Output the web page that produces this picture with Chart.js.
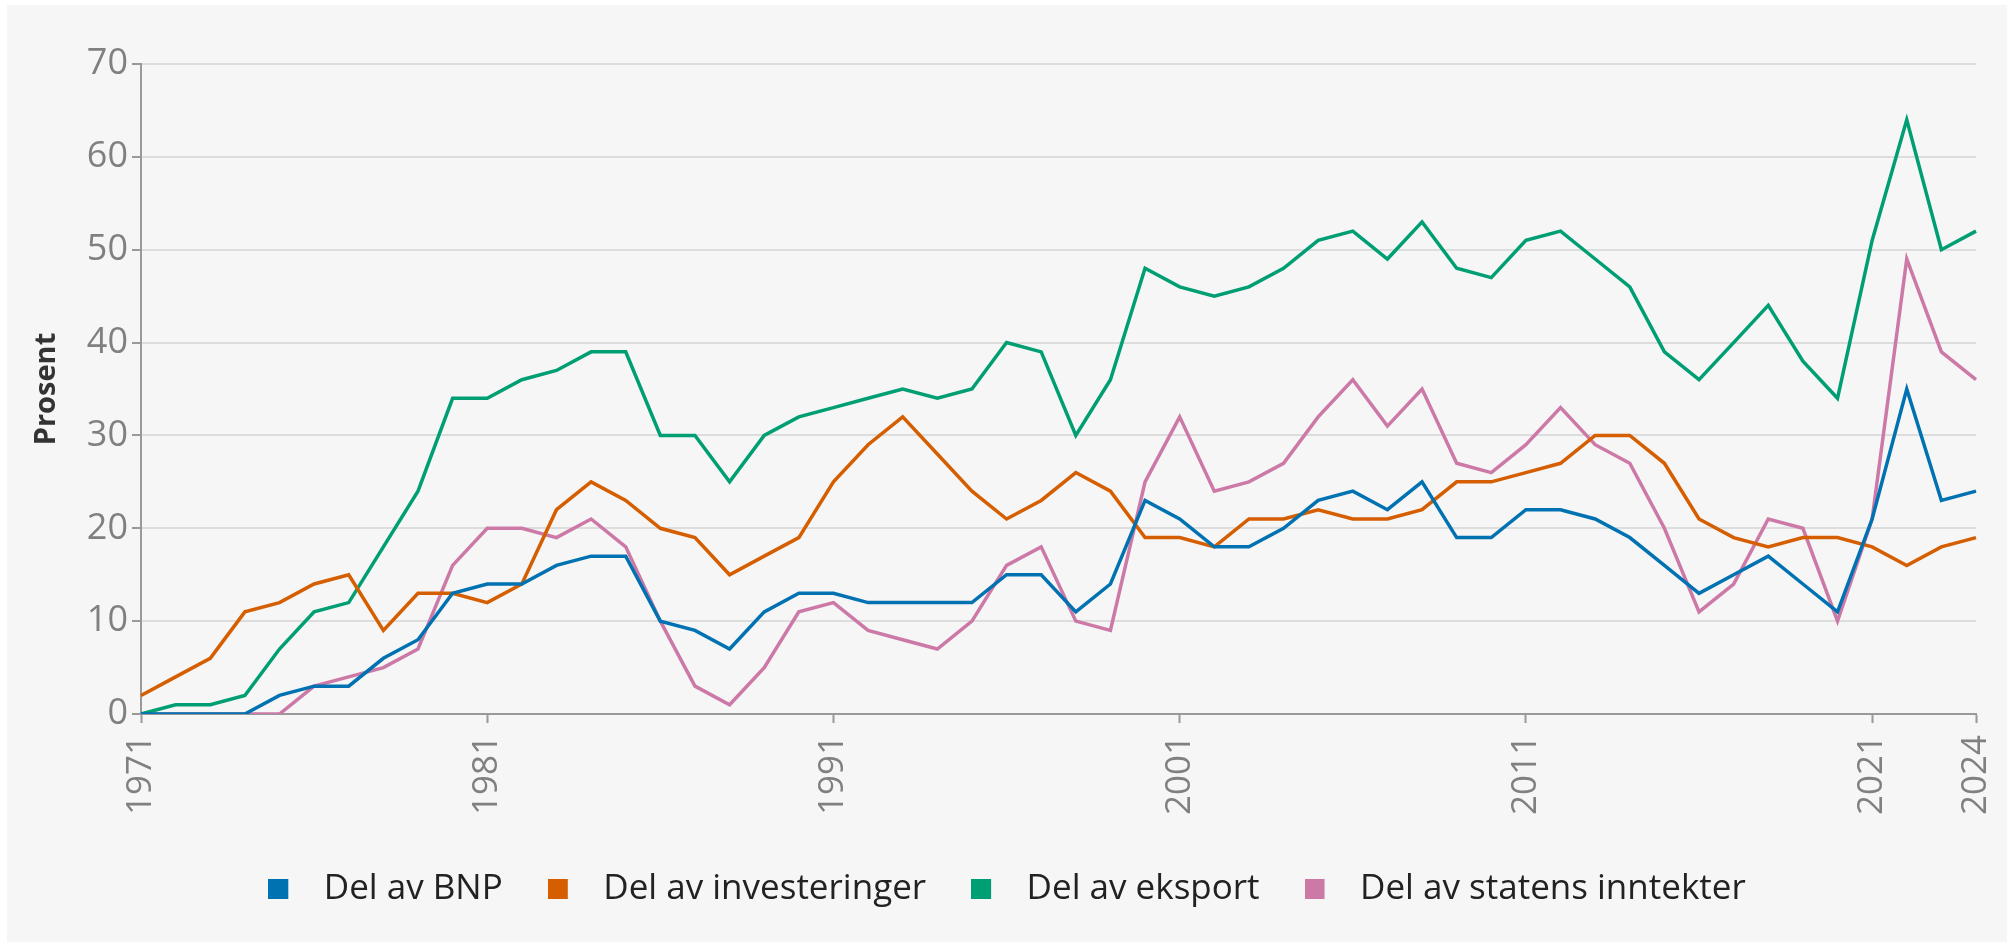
<!DOCTYPE html>
<html><head><meta charset="utf-8">
<script src="https://cdn.jsdelivr.net/npm/chart.js@4.4.1/dist/chart.umd.min.js"></script>
<style>
html,body{margin:0;padding:0;background:#fff;}
#wrap{position:absolute;left:7px;top:5px;width:2000px;height:937px;background:#f6f6f6;}
canvas{display:block;}
</style></head><body>
<div id="wrap"><canvas id="c" width="2000" height="937"></canvas></div>
<script>
// ---- data ----
const years = ['1971','1972','1973','1974','1975','1976','1977','1978','1979','1980',
  '1981','1982','1983','1984','1985','1986','1987','1988','1989','1990',
  '1991','1992','1993','1994','1995','1996','1997','1998','1999','2000',
  '2001','2002','2003','2004','2005','2006','2007','2008','2009','2010',
  '2011','2012','2013','2014','2015','2016','2017','2018','2019','2020',
  '2021','2022','2023','2024'];
const xTickLabels = ['1971','1981','1991','2001','2011','2021','2024'];
const yMin = 0, yMax = 70, yStep = 10;

const delAvBNP = [0,0,0,0,2,3,3,6,8,13,
  14,14,16,17,17,10,9,7,11,13,
  13,12,12,12,12,15,15,11,14,23,
  21,18,18,20,23,24,22,25,19,19,
  22,22,21,19,16,13,15,17,14,11,
  21,35,23,24];
const delAvInvesteringer = [2,4,6,11,12,14,15,9,13,13,
  12,14,22,25,23,20,19,15,17,19,
  25,29,32,28,24,21,23,26,24,19,
  19,18,21,21,22,21,21,22,25,25,
  26,27,30,30,27,21,19,18,19,19,
  18,16,18,19];
const delAvEksport = [0,1,1,2,7,11,12,18,24,34,
  34,36,37,39,39,30,30,25,30,32,
  33,34,35,34,35,40,39,30,36,48,
  46,45,46,48,51,52,49,53,48,47,
  51,52,49,46,39,36,40,44,38,34,
  51,64,50,52];
const delAvStatensInntekter = [0,0,0,0,0,3,4,5,7,16,
  20,20,19,21,18,10,3,1,5,11,
  12,9,8,7,10,16,18,10,9,25,
  32,24,25,27,32,36,31,35,27,26,
  29,33,29,27,20,11,14,21,20,10,
  21,49,39,36];

const seriesNames = ['Del av BNP','Del av investeringer','Del av eksport','Del av statens inntekter'];
const seriesColors = ['#0072B2','#D55E00','#009E73','#CC79A7'];
const seriesData = [delAvBNP, delAvInvesteringer, delAvEksport, delAvStatensInntekter];

// legend swatch: square at left of a wider transparent box
function swatch(color){
  const c = document.createElement('canvas');
  c.width = 38; c.height = 20;
  const g = c.getContext('2d');
  g.fillStyle = color; g.fillRect(0,0,20,20);
  return c;
}

Chart.defaults.font.family = "'Open Sans', 'Noto Sans', sans-serif";
const isShown = (i) => xTickLabels.includes(years[i]);

new Chart(document.getElementById('c'), {
  type: 'line',
  data: {
    labels: years,
    datasets: seriesNames.map((n, i) => ({
      label: n,
      data: seriesData[i],
      borderColor: seriesColors[i],
      backgroundColor: seriesColors[i],
      borderWidth: 3.5,
      pointRadius: 0,
      pointHoverRadius: 0,
      pointStyle: swatch(seriesColors[i]),
      tension: 0,
      fill: false
    }))
  },
  options: {
    responsive: false,
    animation: false,
    layout: { padding: { top: 59, right: 0, bottom: 25.5, left: 0 } },
    plugins: {
      tooltip: { enabled: false },
      legend: {
        position: 'bottom',
        labels: {
          usePointStyle: true,
          pointStyleWidth: 38,
          padding: 45,
          color: '#222',
          font: { size: 35 }
        }
      }
    },
    scales: {
      x: {
        type: 'category',
        offset: false,
        afterFit: (s) => { s.height = 112.5; s.paddingLeft = 0; s.paddingRight = 0; },
        grid: {
          drawOnChartArea: false,
          drawTicks: true,
          tickLength: 9,
          tickWidth: 2,
          tickColor: (ctx) => isShown(ctx.index) ? '#999' : 'rgba(0,0,0,0)'
        },
        border: { display: true, color: '#999', width: 2 },
        ticks: {
          autoSkip: false,
          maxRotation: 90,
          minRotation: 90,
          padding: 12,
          color: '#808080',
          font: { size: 35 },
          callback: function(v, i){ return isShown(i) ? years[i] : ''; }
        }
      },
      y: {
        min: yMin, max: yMax,
        afterFit: (s) => { s.width = 134; s.paddingTop = 0; s.paddingBottom = 0; },
        grid: { color: '#dddddd', lineWidth: 2, tickLength: 9, tickWidth: 2, tickColor: '#999' },
        border: { display: true, color: '#999', width: 2 },
        ticks: { stepSize: yStep, padding: 4, color: '#808080', font: { size: 36 } },
        title: {
          display: true, text: 'Prosent', color: '#333',
          font: { size: 29, weight: 'bold' },
          padding: { top: 22, bottom: 0 }
        }
      },
      yRight: {
        position: 'right',
        min: 0, max: 1,
        afterFit: (s) => { s.width = 31; s.paddingTop = 0; s.paddingBottom = 0; },
        grid: { display: false, drawTicks: false },
        border: { display: false },
        ticks: { display: false }
      }
    }
  }
});
</script>
</body></html>
